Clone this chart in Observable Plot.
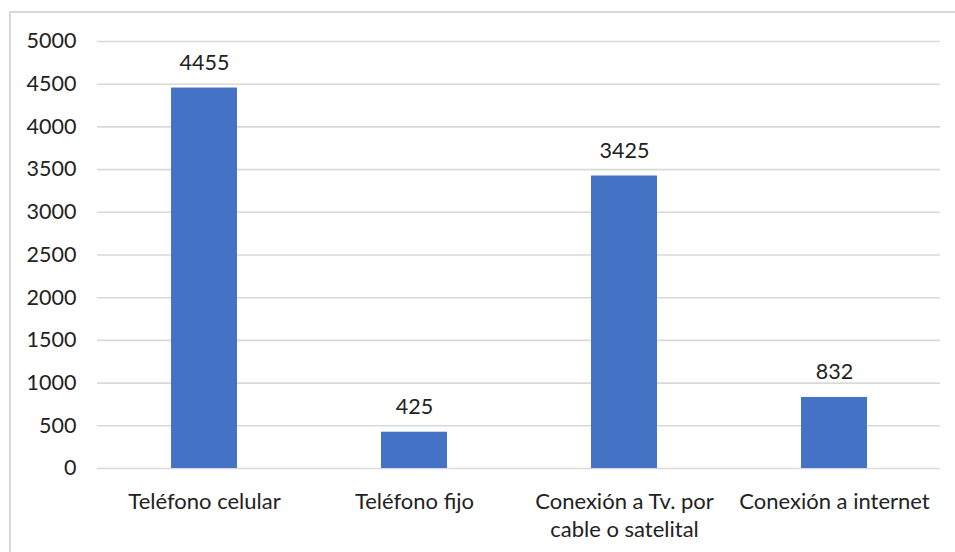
<!DOCTYPE html>
<html><head><meta charset="utf-8">
<script src="https://cdn.jsdelivr.net/npm/d3@7"></script>
<script src="https://cdn.jsdelivr.net/npm/@observablehq/plot@0.6"></script>
<style>
body{margin:0;background:#fff;width:955px;height:552px;overflow:hidden;position:relative;font-family:Lato,"Open Sans",sans-serif;}
#frame{position:absolute;left:9px;top:11px;width:960px;height:560px;border-left:2px solid #d9d9d9;border-top:2px solid #d9d9d9;box-sizing:border-box;}
#chart{position:absolute;left:0;top:0;}
</style></head><body>
<div id="frame"></div>
<div id="chart"></div>
<script>
const categories = ["Teléfono celular", "Teléfono fijo", "Conexión a Tv. por\ncable o satelital", "Conexión a internet"];
const values = [4455, 425, 3425, 832];
const yTicks = [0, 500, 1000, 1500, 2000, 2500, 3000, 3500, 4000, 4500, 5000];

const data = categories.map((c, i) => ({cat: c, val: values[i]}));

const chart = Plot.plot({
  width: 955,
  height: 552,
  marginLeft: 97,
  marginRight: 15,
  marginTop: 41,
  marginBottom: 84,
  style: {background: "transparent", fontFamily: "Lato, 'Open Sans', sans-serif", fontSize: "22px", color: "#222"},
  x: {domain: categories, paddingInner: 0.687, paddingOuter: 0.3435, axis: null},
  y: {domain: [0, 5000], axis: null},
  marks: [
    Plot.ruleY(yTicks, {stroke: "#d9d9d9", strokeWidth: 1.6, strokeOpacity: 1}),
    Plot.barY(data, {x: "cat", y: "val", fill: "#4472c4"}),
    Plot.text(data, {x: "cat", y: "val", text: d => String(d.val), dy: -25, fontSize: 21.5, fill: "#222"}),
    Plot.text(yTicks, {y: d => d, text: d => String(d), frameAnchor: "left", dx: -21, textAnchor: "end", fontSize: 21.5, fill: "#222"}),
    Plot.text(categories, {x: d => d, y: 0, text: d => d, dy: 20, lineAnchor: "top", lineHeight: 1.28, fontSize: 22, fill: "#222"})
  ]
});
document.getElementById("chart").appendChild(chart);
</script>
</body></html>
